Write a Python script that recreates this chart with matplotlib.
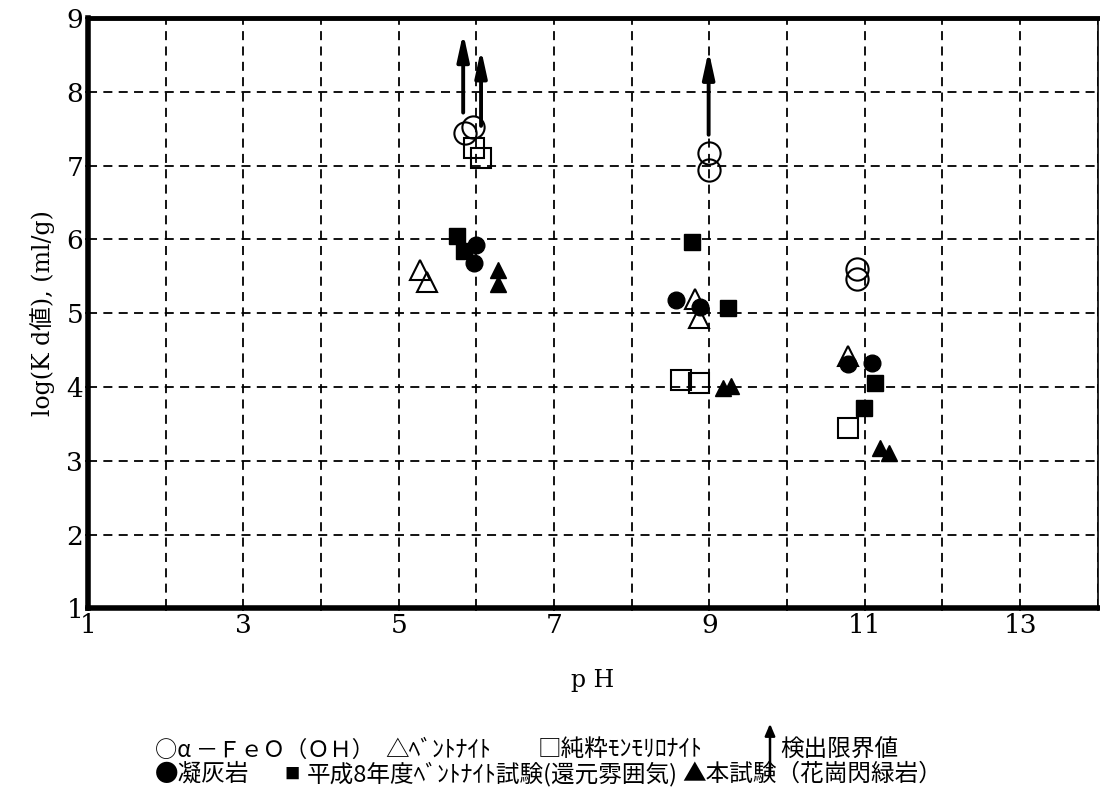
import matplotlib
matplotlib.use("Agg")
import matplotlib.pyplot as plt

plt.rcParams['font.family'] = ['DejaVu Serif', 'Noto Sans CJK JP']

# alpha-FeO(OH)
feooh_ph = [5.85, 5.95, 8.99, 8.99, 10.9, 10.9]
feooh_kd = [7.44, 7.52, 7.17, 6.94, 5.6, 5.46]
# bentonite
bent_ph = [5.27, 5.37, 8.81, 8.87, 10.79]
bent_kd = [5.58, 5.42, 5.19, 4.94, 4.42]
# pure montmorillonite
mont_ph = [5.97, 6.06, 8.64, 8.87, 10.78]
mont_kd = [7.24, 7.10, 4.09, 4.06, 3.45]
# tuff
tuff_ph = [5.99, 5.97, 8.57, 8.88, 10.79, 11.09]
tuff_kd = [5.93, 5.68, 5.18, 5.08, 4.31, 4.32]
# H8 bentonite test (reducing)
h8_ph = [5.75, 5.84, 8.78, 9.24, 11.13, 10.99]
h8_kd = [6.05, 5.85, 5.97, 5.07, 4.05, 3.72]
# this test (granodiorite)
gran_ph = [6.28, 6.28, 9.18, 9.28, 11.19, 11.31]
gran_kd = [5.58, 5.40, 3.99, 4.01, 3.17, 3.10]
# detection limit arrows
arr_ph = [5.83, 6.06, 8.99]
arr_from = [7.72, 7.54, 7.42]
arr_to = [8.8, 8.58, 8.56]

xticks = list(range(1, 15))
xlabels = [str(t) if t % 2 == 1 else '' for t in xticks]
yticks = list(range(1, 10))

# legend text pieces: (x in figure coords, text, size)
legend_row1 = [(0.141, '○α －ＦｅＯ（ＯＨ）', 16), (0.350, '△ﾍﾞﾝﾄﾅｲﾄ', 17),
               (0.489, '□純粋ﾓﾝﾓﾘﾛﾅｲﾄ', 17), (0.709, '検出限界値', 17)]
legend_row2 = [(0.141, '●凝灰岩', 17), (0.259, '■', 11),
               (0.279, '平成8年度ﾍﾞﾝﾄﾅｲﾄ試験(還元雰囲気)', 17),
               (0.620, '▲本試験（花崗閃緑岩）', 17)]

fig = plt.figure(figsize=(11, 7.91), dpi=100)
ax = fig.add_axes([0.08, 0.231, 0.918, 0.746])

ax.plot(feooh_ph, feooh_kd, 'o', ms=16, mfc='none', mec='k', mew=1.5, zorder=5)
ax.plot(bent_ph, bent_kd, '^', ms=15, mfc='none', mec='k', mew=1.5, zorder=5)
ax.plot(mont_ph, mont_kd, 's', ms=15, mfc='none', mec='k', mew=1.5, zorder=5)
ax.plot(tuff_ph, tuff_kd, 'o', ms=12, mfc='k', mec='k', zorder=6)
ax.plot(h8_ph, h8_kd, 's', ms=11, mfc='k', mec='k', zorder=6)
ax.plot(gran_ph, gran_kd, '^', ms=12, mfc='k', mec='k', zorder=6)

for x, y0, y1 in zip(arr_ph, arr_from, arr_to):
    ax.annotate('', xy=(x, y1), xytext=(x, y0),
                arrowprops=dict(arrowstyle='-|>,head_length=1.6,head_width=0.35',
                                color='k', lw=2.8, shrinkA=0, shrinkB=0),
                zorder=7)

ax.set_xlim(1, 14)
ax.set_ylim(1, 9)
ax.set_xticks(xticks)
ax.set_xticklabels(xlabels)
ax.set_yticks(yticks)
ax.tick_params(labelsize=19, length=5, width=1.2, direction='inout', pad=1)
ax.grid(True, color='k', ls=(0, (5, 3.5)), lw=1.3)

for loc, lw in [('left', 4), ('bottom', 4), ('top', 3.5), ('right', 1.2)]:
    ax.spines[loc].set_linewidth(lw)

ax.set_xlabel('p H', fontsize=17, labelpad=22)
ax.set_ylabel('log(K d値), (ml/g)', fontsize=17, labelpad=8,
              family=['DejaVu Serif', 'Noto Sans CJK JP'])

leg_font = ['Noto Sans CJK JP', 'DejaVu Sans']
for x, s, fs in legend_row1:
    fig.text(x, 0.052, s, fontsize=fs, family=leg_font, va='center')
for x, s, fs in legend_row2:
    fig.text(x, 0.021, s, fontsize=fs, family=leg_font, va='center')
fig.add_artist(matplotlib.patches.FancyArrowPatch(
    (0.700, 0.020), (0.700, 0.085), transform=fig.transFigure,
    arrowstyle='-|>,head_length=7,head_width=3', color='k', lw=1.8,
    shrinkA=0, shrinkB=0))

fig.savefig('out.png', dpi=100)
